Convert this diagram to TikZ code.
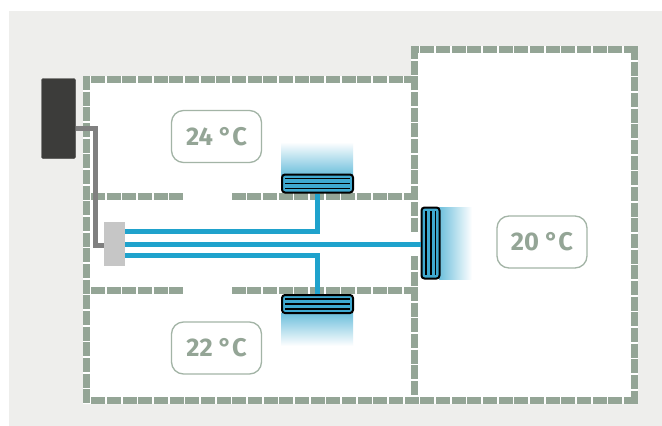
\documentclass[tikz,border=0pt]{standalone}
\usepackage{fontspec}
\setmainfont{Fira Sans}
\definecolor{bgc}{HTML}{EEEEEC}
\definecolor{wallc}{HTML}{94A596}
\definecolor{pipec}{HTML}{1FA2CC}
\definecolor{wirec}{HTML}{808080}
\definecolor{ctrlc}{HTML}{3C3C3A}
\definecolor{valvec}{HTML}{C6C6C6}
\definecolor{unitc}{HTML}{3FA9D0}
\definecolor{gradc}{HTML}{6DBFDC}
\definecolor{labc}{HTML}{A3B4A6}
\definecolor{txtc}{HTML}{94A596}
\tikzset{
  wall/.style={draw=wallc,line width=7pt,dash pattern=on 14pt off 1.67pt},
  pipe/.style={draw=pipec,line width=5.5pt},
  wire/.style={draw=wirec,line width=5pt},
  unitbox/.style={draw=black,line width=2pt,fill=unitc,rounded corners=3pt,inner sep=0pt},
  fin/.style={draw=black,line width=1.3pt},
  templabel/.style={draw=labc,line width=1.3pt,fill=white,rounded corners=12pt,inner sep=0pt,
    minimum width=90pt,minimum height=52pt,text=txtc,font=\fontsize{25.5}{25.5}\selectfont\bfseries},
}
\begin{document}
\begin{tikzpicture}[x=1pt,y=-1pt]
\useasboundingbox (0,0) rectangle (662,426);
\fill[bgc] (9,11) rectangle (662,426);
\fill[white] (83,76) -- (411,76) -- (411,46) -- (638,46) -- (638,404) -- (83,404) -- cycle;
% heat gradients
\shade[top color=white,bottom color=gradc] (281,142) rectangle (353,175);
\shade[bottom color=white,top color=gradc] (281,313) rectangle (353,346);
\shade[left color=gradc,right color=white] (439,207) rectangle (472,279);
% walls
\draw[wall] (86.5,76) -- (86.5,404);
\draw[wall] (91,79.5) -- (411,79.5);
\draw[wall] (638,49.5) -- (418,49.5);
\draw[wall] (634.5,46) -- (634.5,404);
\draw[wall] (638,400.5) -- (91,400.5);
\draw[wall] (414.5,200) -- (414.5,46);
\draw[wall] (414.5,202) -- (414.5,232);
\draw[wall] (414.5,256) -- (414.5,286);
\draw[wall] (414.5,287) -- (414.5,397);
\draw[wall] (91,196.5) -- (184,196.5);
\draw[wall] (418,196.5) -- (232,196.5);
\draw[wall] (91,290.5) -- (184,290.5);
\draw[wall] (418,290.5) -- (232,290.5);
% equipment
\node[fill=ctrlc,draw=ctrlc,rounded corners=1.5pt,minimum width=34pt,minimum height=80pt,inner sep=0pt] (ctrl) at (58.5,118.5) {};
\node[fill=valvec,minimum width=21pt,minimum height=44pt,inner sep=0pt] (valve) at (114.5,244) {};
\node[unitbox,minimum width=71pt,minimum height=18pt] (upper) at (317.5,183.5) {};
\node[unitbox,minimum width=71pt,minimum height=18pt] (lower) at (317.5,304) {};
\node[unitbox,minimum width=18pt,minimum height=71pt] (right) at (430.5,243) {};
% connectors
\draw[wire] (ctrl.east |- 0,128) -- (95.5,128) -- (95.5,245.5) -- (valve.west |- 0,245.5);
\draw[pipe] (valve.east |- 0,231.7) -- (317.5,231.7) -- (upper.south);
\draw[pipe] (valve.east |- 0,244.3) -- (right.west |- 0,244.3);
\draw[pipe] (valve.east |- 0,255.7) -- (317.5,255.7) -- (lower.north);
% fins
\foreach \y in {178.4,183.4,188.4} \draw[fin] (285,\y) -- (350,\y);
\foreach \y in {299,304,309} \draw[fin] (285,\y) -- (350,\y);
\foreach \x in {426,431,435.5} \draw[fin] (\x,211) -- (\x,275);
% labels
\node[templabel] (t24) at (216.5,136.5) {24 °C};
\node[templabel] (t22) at (216.5,348) {22 °C};
\node[templabel] (t20) at (542,242) {20 °C};
\end{tikzpicture}
\end{document}
